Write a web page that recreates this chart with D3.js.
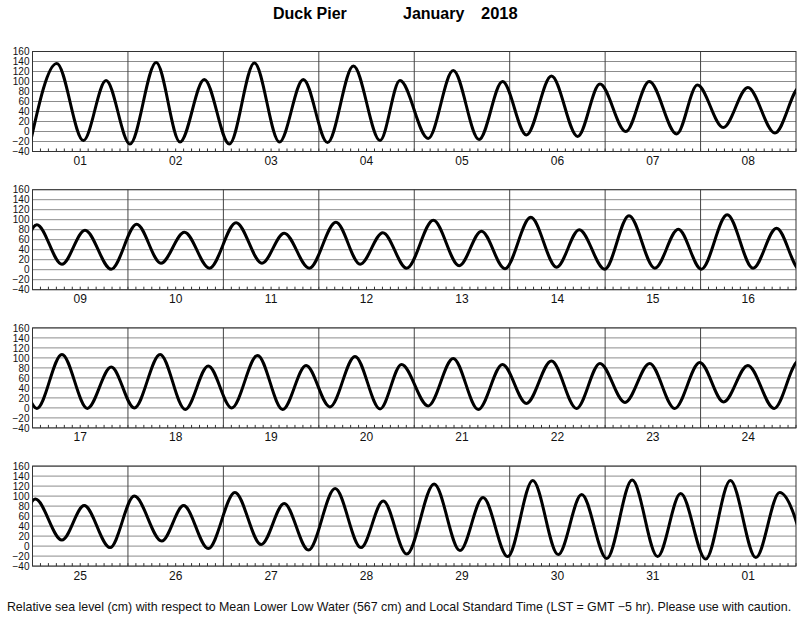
<!DOCTYPE html>
<html>
<head>
<meta charset="utf-8">
<script src="https://cdn.jsdelivr.net/npm/d3@7"></script>
<style>
  html, body { margin: 0; padding: 0; background: #fff; }
  svg { display: block; font-family: "Liberation Sans", Arial, Helvetica, sans-serif; }
</style>
</head>
<body>
<svg id="chart" width="800" height="618"></svg>
<script>
// ---- Data ----
const titleStation = "Duck Pier";
const titleMonth = "January";
const titleYear = "2018";
const footnote = "Relative sea level (cm) with respect to Mean Lower Low Water (567 cm) and Local Standard Time (LST = GMT \u22125 hr). Please use with caution.";

const dayLabels = ["01","02","03","04","05","06","07","08","09","10","11","12","13","14","15","16",
                   "17","18","19","20","21","22","23","24","25","26","27","28","29","30","31","01"];
const yTicks = [-40, -20, 0, 20, 40, 60, 80, 100, 120, 140, 160];

// Times of high / low water, hours since Jan 1 00:00 LST
const tideHours = [
  -0.6, 6.1, 12.8, 18.5, 24.5, 31.1, 37.1, 43.2, 49.5, 55.8, 62.1, 68.1, 74.2, 80.7, 87.4, 92.4,
  99.5, 105.8, 112.3, 118.2, 124.2, 130.5, 137.1, 142.7, 149.2, 155.1, 162.0, 167.2, 173.7, 179.9, 186.7,
  193.1, 199.4, 205.2, 211.8, 218.2, 224.3, 230.2, 236.5, 243.2, 249.7, 255.3, 261.6, 268.3, 274.4, 280.1, 286.1,
  292.8, 299.3, 304.9, 310.8, 317.3, 323.8, 329.5, 335.9, 342.0, 348.5, 354.4, 360.2, 366.7, 373.2, 379.1,
  385.1, 391.4, 397.8, 403.8, 409.6, 416.1, 422.4, 428.2, 434.1, 440.6, 446.9, 452.8, 458.8, 465.1, 471.4, 476.8,
  483.5, 489.8, 496.1, 502.2, 508.2, 514.5, 520.8, 526.7, 533.0, 539.2, 545.5, 551.8, 557.8, 563.9, 570.5,
  576.7, 583.4, 589.0, 595.5, 601.6, 608.5, 614.0, 620.2, 626.9, 633.5, 639.3, 645.4, 652.1, 658.6, 664.2, 670.1,
  677.0, 683.5, 689.3, 695.5, 701.8, 708.2, 714.1, 720.4, 726.8, 733.2, 739.0, 745.3, 751.5, 757.9, 763.9, 770.8
];
// Water level at those times (cm)
const tideLevels = [
  -24, 136, -18, 102, -25, 138, -21, 104, -25, 137, -21, 104, -22, 131, -18, 102,
  -14, 122, -16, 100, -7, 111, -10, 95, 0, 100, -5, 93, 8, 88, -3,
  90, 11, 79, 1, 91, 13, 75, 3, 94, 13, 73, 3, 95, 11, 74, 3,
  99, 8, 77, 2, 105, 5, 80, 1, 108, 3, 81, 1, 110, 3, 83,
  -1, 107, -1, 82, 0, 107, -3, 84, 0, 105, -3, 85, 2, 103, -2, 87,
  4, 99, -3, 87, 9, 94, -1, 89, 11, 89, -1, 91, 12, 85, -1,
  94, 12, 81, -3, 100, 10, 81, -5, 107, 3, 85, -8, 115, -3, 90, -16,
  124, -9, 97, -21, 131, -17, 103, -25, 132, -21, 105, -26, 131, -23, 107, -25
];

// ---- Layout ----
const svg = d3.select("#chart");
const plotLeft = 32.5, plotRight = 796;
const panelH = 100;
const panelTops = [51.5, 189.7, 327.9, 466.1];
const daysPerPanel = 8;
const hoursPerDay = 24;

const tide = tideHours.map((h, i) => ({ h, v: tideLevels[i] }));

// Title
svg.append("text").attr("x", 273).attr("y", 19)
  .attr("font-size", 16).attr("font-weight", "bold").text(titleStation);
svg.append("text").attr("x", 403).attr("y", 19)
  .attr("font-size", 16).attr("font-weight", "bold").text(titleMonth);
svg.append("text").attr("x", 481).attr("y", 19)
  .attr("font-size", 16.5).attr("font-weight", "bold").text(titleYear);

panelTops.forEach((top, p) => {
  const h0 = p * daysPerPanel * hoursPerDay;
  const h1 = h0 + daysPerPanel * hoursPerDay;
  const x = d3.scaleLinear().domain([h0, h1]).range([plotLeft, plotRight]);
  const y = d3.scaleLinear().domain([-40, 160]).range([top + panelH, top]);

  const g = svg.append("g");

  // horizontal grid
  g.selectAll("line.hgrid").data(yTicks).join("line")
    .attr("x1", plotLeft).attr("x2", plotRight)
    .attr("y1", d => y(d)).attr("y2", d => y(d))
    .attr("stroke", "#8c8c8c").attr("stroke-width", 1);

  // y labels
  g.selectAll("text.ylab").data(yTicks).join("text")
    .attr("x", plotLeft - 3).attr("y", d => y(d) + 3.6)
    .attr("text-anchor", "end").attr("font-size", 10).attr("fill", "#111")
    .text(d => d < 0 ? "\u2212" + Math.abs(d) : String(d));

  // 2-hour ticks along the bottom
  const tickHours = d3.range(h0, h1 + 0.001, 2);
  g.selectAll("line.tick").data(tickHours).join("line")
    .attr("x1", d => x(d)).attr("x2", d => x(d))
    .attr("y1", y(-40)).attr("y2", y(-40) - 3)
    .attr("stroke", "#333").attr("stroke-width", 1);

  // day separators
  const dayBounds = d3.range(1, daysPerPanel).map(k => h0 + k * hoursPerDay);
  g.selectAll("line.day").data(dayBounds).join("line")
    .attr("x1", d => x(d)).attr("x2", d => x(d))
    .attr("y1", top).attr("y2", top + panelH)
    .attr("stroke", "#444").attr("stroke-width", 1);

  // day labels
  const days = dayLabels.slice(p * daysPerPanel, (p + 1) * daysPerPanel);
  g.selectAll("text.day").data(days).join("text")
    .attr("x", (d, k) => x(h0 + k * hoursPerDay + 12))
    .attr("y", top + panelH + 13.5)
    .attr("text-anchor", "middle").attr("font-size", 12).attr("fill", "#111")
    .text(d => d);

  // frame
  g.append("rect").attr("x", plotLeft).attr("y", top)
    .attr("width", plotRight - plotLeft).attr("height", panelH)
    .attr("fill", "none").attr("stroke", "#333").attr("stroke-width", 1);

  // clip + tide curve
  const clipId = "clip" + p;
  svg.append("clipPath").attr("id", clipId).append("rect")
    .attr("x", plotLeft).attr("y", top - 5)
    .attr("width", plotRight - plotLeft).attr("height", panelH + 10);

  const line = d3.line().x(d => x(d.h)).y(d => y(d.v)).curve(d3.curveMonotoneX);
  g.append("path").datum(tide)
    .attr("clip-path", `url(#${clipId})`)
    .attr("d", line)
    .attr("fill", "none").attr("stroke", "#000").attr("stroke-width", 3)
    .attr("stroke-linejoin", "round");
});

// footnote
svg.append("text").attr("x", 399).attr("y", 611)
  .attr("text-anchor", "middle").attr("font-size", 12.4).attr("fill", "#111")
  .text(footnote);
</script>
</body>
</html>
